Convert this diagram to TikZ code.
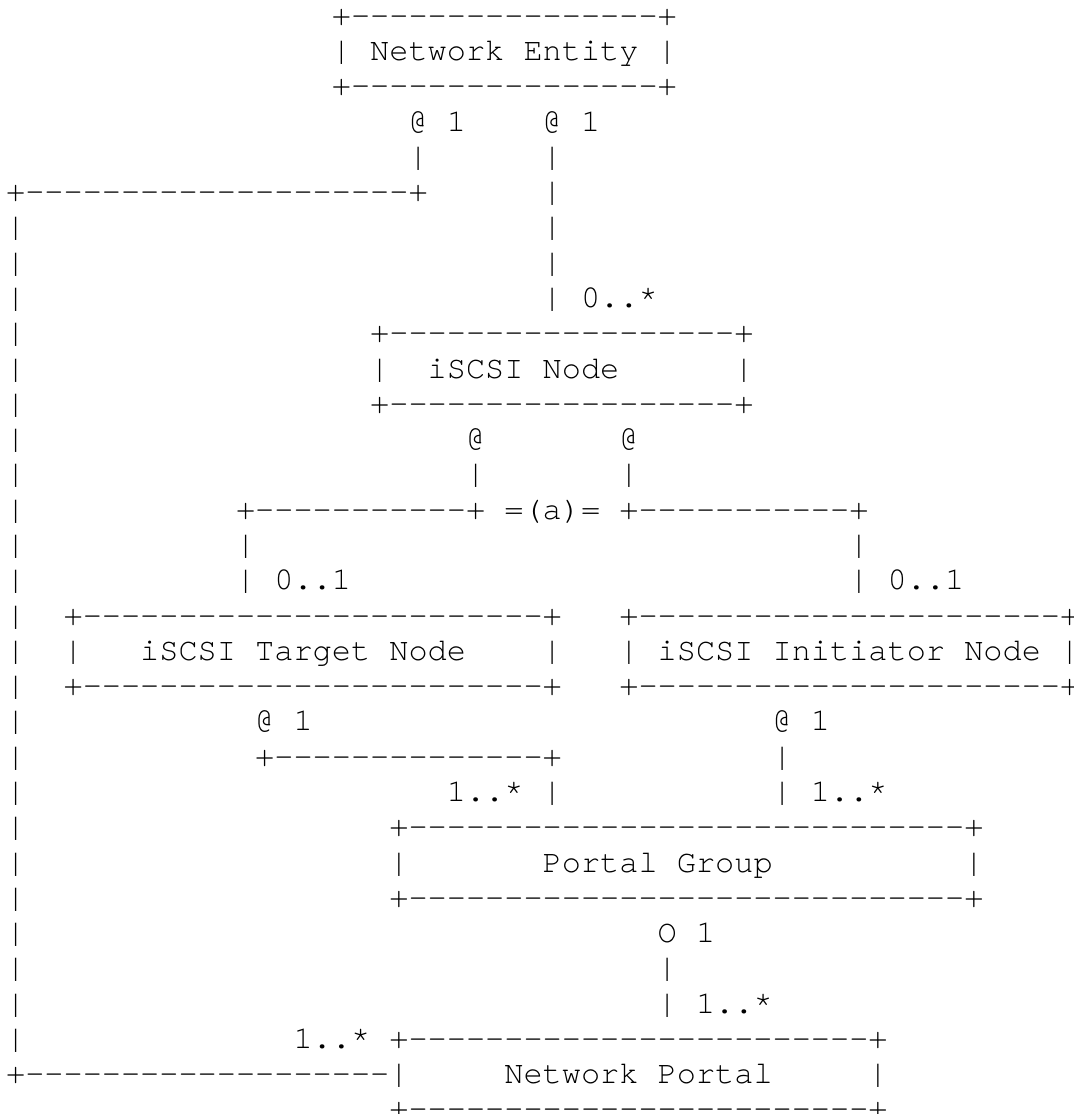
\documentclass[tikz,border=0pt]{standalone}
\usepackage{fontspec}
\setmonofont{texgyrecursor-regular.otf}
\newcommand\asciiat[4]{\node[asc] (#1) at ({6.1+19.164*#2},{25.3+35.28*#3}) {#4};}
\begin{document}
\begin{tikzpicture}[x=0.5pt,y=-0.5pt,
  asc/.style={anchor=base west,inner sep=0pt,outer sep=0pt,
    font=\fontsize{15.97}{16}\selectfont\ttfamily,text=black}]
\fill[white] (0,0) rectangle (1073,1114);
\useasboundingbox (0,0) rectangle (1073,1114);
% Network Entity
\asciiat{neT}{17}{0}{+----------------+}
\asciiat{ne}{17}{1}{| Network Entity |}
\asciiat{neB}{17}{2}{+----------------+}
\asciiat{ma1}{21}{3}{@ 1}
\asciiat{ma2}{28}{3}{@ 1}
\asciiat{va4}{21}{4}{|}
\asciiat{vb4}{28}{4}{|}
\asciiat{ha5}{0}{5}{+--------------------+}
\asciiat{vb5}{28}{5}{|}
\asciiat{vb6}{28}{6}{|}
\asciiat{vb7}{28}{7}{|}
\asciiat{vb8}{28}{8}{| 0..*}
% iSCSI Node
\asciiat{inT}{19}{9}{+------------------+}
\asciiat{inL}{19}{10}{|}
\asciiat{in}{22}{10}{iSCSI Node}
\asciiat{inR}{38}{10}{|}
\asciiat{inB}{19}{11}{+------------------+}
\asciiat{mc1}{24}{12}{@}
\asciiat{mc2}{32}{12}{@}
\asciiat{vc13}{24}{13}{|}
\asciiat{vd13}{32}{13}{|}
\asciiat{hc14}{12}{14}{+-----------+ =(a)= +-----------+}
\asciiat{ve15}{12}{15}{|}
\asciiat{vf15}{44}{15}{|}
\asciiat{ve16}{12}{16}{| 0..1}
\asciiat{vf16}{44}{16}{| 0..1}
% Target / Initiator
\asciiat{tnT}{3}{17}{+------------------------+}
\asciiat{tnL}{3}{18}{|}
\asciiat{tn}{7}{18}{iSCSI Target Node}
\asciiat{tnR}{28}{18}{|}
\asciiat{tnB}{3}{19}{+------------------------+}
\asciiat{enT}{32}{17}{+----------------------+}
\asciiat{en}{32}{18}{| iSCSI Initiator Node |}
\asciiat{enB}{32}{19}{+----------------------+}
\asciiat{mt}{13}{20}{@ 1}
\asciiat{mi}{40}{20}{@ 1}
\asciiat{ht21}{13}{21}{+--------------+}
\asciiat{vi21}{40}{21}{|}
\asciiat{vt22}{23}{22}{1..* |}
\asciiat{vi22}{40}{22}{| 1..*}
% Portal Group
\asciiat{pgT}{20}{23}{+-----------------------------+}
\asciiat{pgL}{20}{24}{|}
\asciiat{pg}{28}{24}{Portal Group}
\asciiat{pgR}{50}{24}{|}
\asciiat{pgB}{20}{25}{+-----------------------------+}
\asciiat{mp}{34}{26}{O 1}
\asciiat{vp27}{34}{27}{|}
\asciiat{vp28}{34}{28}{| 1..*}
% Network Portal
\asciiat{npT}{15}{29}{1..* +------------------------+}
\asciiat{npL}{0}{30}{+-------------------|}
\asciiat{np}{26}{30}{Network Portal}
\asciiat{npR}{45}{30}{|}
\asciiat{npB}{20}{31}{+------------------------+}
% left return line
\foreach \r in {6,...,29}{\asciiat{left\r}{0}{\r}{|}}
\end{tikzpicture}
\end{document}
